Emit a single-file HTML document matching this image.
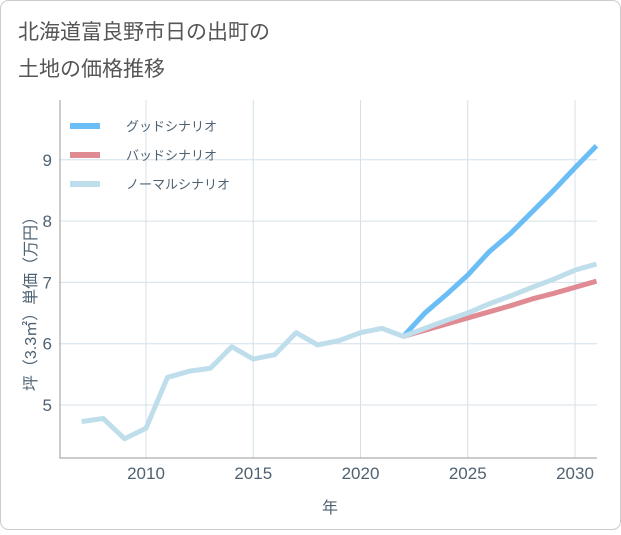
<!DOCTYPE html>
<html><head><meta charset="utf-8"><style>
body{margin:0;background:#fff;}
svg text{font-family:"Liberation Sans","Noto Sans CJK JP",sans-serif;}
</style></head><body>
<svg id="chart" width="621" height="530" xmlns="http://www.w3.org/2000/svg">
<rect x="0.5" y="0.5" width="620" height="529" rx="8" fill="#fff" stroke="#ccc"/>
<text x="18" y="39" font-size="21" fill="#555">北海道富良野市日の出町の</text>
<text x="18" y="76" font-size="21" fill="#555">土地の価格推移</text>
<g id="grid"></g>
<g id="series"></g>
<g id="legend"></g>
<text x="330" y="513" font-size="16" fill="#4f6272" text-anchor="middle">年</text>
<text transform="translate(36,300) rotate(-90)" font-size="16" fill="#4f6272" text-anchor="middle">坪（3.3㎡）単価（万円）</text>
</svg>
<script>
const years=[2007,2008,2009,2010,2011,2012,2013,2014,2015,2016,2017,2018,2019,2020,2021,2022,2023,2024,2025,2026,2027,2028,2029,2030,2031];
const normal=[4.73,4.78,4.45,4.62,5.45,5.55,5.6,5.95,5.75,5.82,6.18,5.98,6.05,6.18,6.25,6.12,6.25,6.38,6.5,6.65,6.78,6.92,7.05,7.2,7.3];
const goodYears=[2022,2023,2024,2025,2026,2027,2028,2029,2030,2031];
const good=[6.12,6.5,6.8,7.12,7.5,7.8,8.15,8.5,8.87,9.23];
const bad=[6.12,6.22,6.32,6.42,6.52,6.62,6.73,6.82,6.92,7.02];
const xTicks=[2010,2015,2020,2025,2030];
const yTicks=[5,6,7,8,9];
const legendLabels=["グッドシナリオ","バッドシナリオ","ノーマルシナリオ"];
const colors=["#6bbdf5","#e08a93","#bfdeec"];
const NS="http://www.w3.org/2000/svg";
const L=60,R=597,T=100,B=458;
const x=v=>146+(v-2010)*21.45;
const y=v=>405-(v-5)*61.3;
function mk(p,tag,a){const e=document.createElementNS(NS,tag);for(const k in a)e.setAttribute(k,a[k]);p.appendChild(e);return e;}
const grid=document.getElementById('grid');
xTicks.forEach(t=>{
 const l=mk(grid,'line',{x1:x(t),x2:x(t),y1:T,y2:B,stroke:'#d5e0ea'});
 
 
 const tx=mk(grid,'text',{x:x(t),y:479,'font-size':17,fill:'#4f6272','text-anchor':'middle'});tx.textContent=t;
 
 
});
yTicks.forEach(t=>{
 const l=mk(grid,'line',{x1:L,x2:R,y1:y(t),y2:y(t),stroke:'#d5e0ea'});
 
 
 const tx=mk(grid,'text',{x:52,y:y(t)+6,'font-size':17,fill:'#4f6272','text-anchor':'end'});tx.textContent=t;
 
 
});
const ax=mk(grid,'path',{d:`M${L},${T}V${B}H${R}`,fill:'none',stroke:'#999'});


const ser=document.getElementById('series');
function line(xs,vs,c,name){
 const p=mk(ser,'polyline',{points:xs.map((yr,i)=>x(yr)+','+y(vs[i])).join(' '),fill:'none',stroke:c,'stroke-width':5,'stroke-linejoin':'round'});
 
 
}
line(goodYears,good,colors[0],'good-scenario-line');
line(goodYears,bad,colors[1],'bad-scenario-line');
line(years,normal,colors[2],'normal-scenario-line');
const lg=document.getElementById('legend');
legendLabels.forEach((s,i)=>{
 const yy=126+i*29;
 const l=mk(lg,'line',{x1:70,x2:100,y1:yy,y2:yy,stroke:colors[i],'stroke-width':6});
 
 
 const t=mk(lg,'text',{x:126,y:yy+5,'font-size':13,fill:'#4f6272'});t.textContent=s;
 
 
});
</script>
</body></html>
